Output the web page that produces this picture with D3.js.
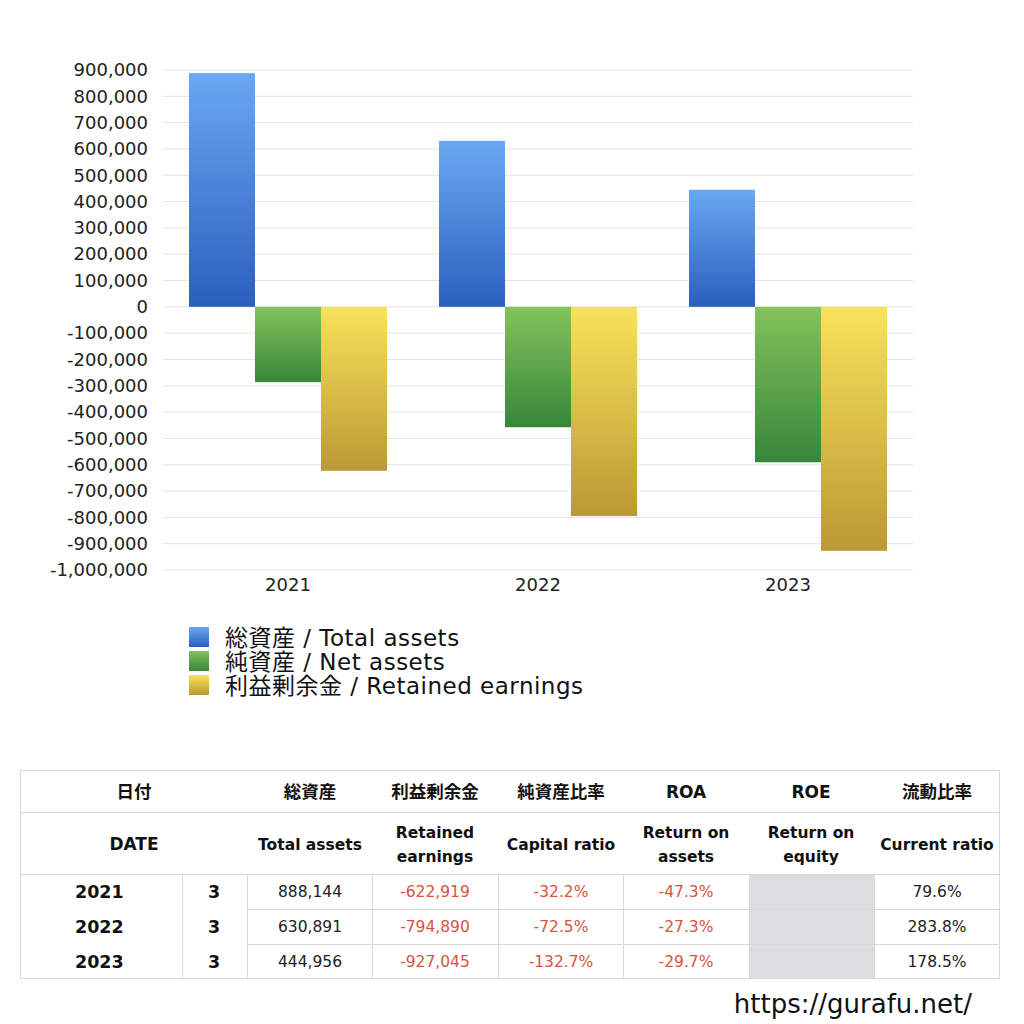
<!DOCTYPE html>
<html><head><meta charset="utf-8">
<script src="https://cdn.jsdelivr.net/npm/d3@7"></script>
<style>body{margin:0;background:#fff;}svg{display:block;font-family:"DejaVu Sans","Noto Sans CJK JP",sans-serif;}</style>
</head><body>
<script>
const years = ["2021","2022","2023"];
const seriesNames = ["総資産 / Total assets","純資産 / Net assets","利益剰余金 / Retained earnings"];
const totalAssets = [888144, 630891, 444956];
const netAssets = [-286000, -457400, -590500];
const retainedEarnings = [-622919, -794890, -927045];
const yTicks = [900000,800000,700000,600000,500000,400000,300000,200000,100000,0,-100000,-200000,-300000,-400000,-500000,-600000,-700000,-800000,-900000,-1000000];
const tableMonths = ["3","3","3"];
const tableTotal = ["888,144","630,891","444,956"];
const tableRetained = ["-622,919","-794,890","-927,045"];
const tableCapital = ["-32.2%","-72.5%","-132.7%"];
const tableROA = ["-47.3%","-27.3%","-29.7%"];
const tableCurrent = ["79.6%","283.8%","178.5%"];

const W=1024,H=1024;
const svg=d3.select("body").append("svg").attr("width",W).attr("height",H);
const defs=svg.append("defs");
const grads=[["#6aa8f2","#2a5fbd"],["#84c25b","#37863a"],["#f8e25a","#bb9934"]];
grads.forEach((g,i)=>{
  const lg=defs.append("linearGradient").attr("id","g"+i).attr("x1",0).attr("y1",0).attr("x2",0).attr("y2",1);
  lg.append("stop").attr("offset","0%").attr("stop-color",g[0]);
  lg.append("stop").attr("offset","100%").attr("stop-color",g[1]);
});

const x0=d3.scaleBand().domain(years).range([163,913]).paddingInner(0).paddingOuter(0);
const x1=d3.scaleBand().domain([0,1,2]).range([26,x0.bandwidth()-26]);
const y=d3.scaleLinear().domain([-1000000,900000]).range([570,70]);
const fmt=d3.formatLocale({decimal:".",thousands:",",grouping:[3],currency:["",""],minus:"-"}).format(",");

svg.append("g").selectAll("line").data(yTicks).join("line")
  .attr("x1",163).attr("x2",913).attr("y1",d=>y(d)).attr("y2",d=>y(d))
  .attr("stroke","#e4e4e4").attr("stroke-width",1);

const yAxis=d3.axisLeft(y).tickValues(yTicks).tickFormat(fmt).tickSize(0).tickPadding(0);
const ga=svg.append("g").attr("transform","translate(148,0)").call(yAxis);
ga.select(".domain").remove();
ga.selectAll("text").attr("font-size",18).attr("fill","#222").attr("font-family","'DejaVu Sans',sans-serif");

const xAxis=d3.axisBottom(x0).tickSize(0).tickPadding(0);
const gx=svg.append("g").attr("transform","translate(0,576)").call(xAxis);
gx.select(".domain").remove();
gx.selectAll("text").attr("font-size",18).attr("fill","#222").attr("font-family","'DejaVu Sans',sans-serif").attr("dy","0.85em");

const series=[totalAssets,netAssets,retainedEarnings];
const g=svg.append("g");
years.forEach((yr,i)=>{
  series.forEach((s,j)=>{
    const v=s[i];
    g.append("rect").attr("x",x0(yr)+x1(j)).attr("width",x1.bandwidth())
      .attr("y",y(Math.max(0,v))).attr("height",Math.abs(y(v)-y(0)))
      .attr("fill",`url(#g${j})`);
  });
});

const lg=svg.append("g");
seriesNames.forEach((n,i)=>{
  lg.append("rect").attr("x",189).attr("y",627+i*24).attr("width",20).attr("height",20).attr("fill",`url(#g${i})`);
  lg.append("text").attr("x",225).attr("y",646+i*24).attr("font-size",23).attr("letter-spacing",0.5).attr("fill","#111").text(n);
});

const t=svg.append("g");
const tx=20, tr=1000;
const colX=[20,182,247,372,498,623,749,874,1000];
const rowY=[770,812,874,909,944,979];
const lineC="#d8d8d8";
t.append("rect").attr("x",colX[6]).attr("y",rowY[2]).attr("width",colX[7]-colX[6]).attr("height",rowY[5]-rowY[2]).attr("fill","#dcdddf");
t.append("rect").attr("x",tx+0.5).attr("y",rowY[0]+0.5).attr("width",tr-tx-1).attr("height",rowY[5]-rowY[0]-1).attr("fill","none").attr("stroke",lineC);
t.append("line").attr("x1",tx).attr("x2",tr).attr("y1",rowY[1]+0.5).attr("y2",rowY[1]+0.5).attr("stroke",lineC);
t.append("line").attr("x1",tx).attr("x2",tr).attr("y1",rowY[2]+0.5).attr("y2",rowY[2]+0.5).attr("stroke",lineC);
[3,4].forEach(r=>t.append("line").attr("x1",colX[2]).attr("x2",tr).attr("y1",rowY[r]+0.5).attr("y2",rowY[r]+0.5).attr("stroke",lineC));
[1,2,3,4,5,6,7].forEach(c=>t.append("line").attr("x1",colX[c]+0.5).attr("x2",colX[c]+0.5).attr("y1",rowY[2]).attr("y2",rowY[5]).attr("stroke",lineC));

const hdr1=[["日付",134],["総資産",310],["利益剰余金",435],["純資産比率",561],["ROA",686],["ROE",811],["流動比率",937]];
hdr1.forEach(([s,cx])=>t.append("text").attr("x",cx).attr("y",798).attr("text-anchor","middle").attr("font-size",/[A-Z]/.test(s)?17:17.5).attr("font-weight","bold").attr("fill","#111").text(s));
const hdr2=[[["DATE"],134],[["Total assets"],310],[["Retained","earnings"],435],[["Capital ratio"],561],[["Return on","assets"],686],[["Return on","equity"],811],[["Current ratio"],937]];
hdr2.forEach(([lines,cx])=>{
  if(lines.length===1){
    t.append("text").attr("x",cx).attr("y",850).attr("text-anchor","middle").attr("font-size",lines[0]==="DATE"?17:15.5).attr("font-weight","bold").attr("fill","#111").text(lines[0]);
  } else {
    lines.forEach((l,k)=>t.append("text").attr("x",cx).attr("y",838+k*24).attr("text-anchor","middle").attr("font-size",15.5).attr("font-weight","bold").attr("fill","#111").text(l));
  }
});
const red="#d9533d";
years.forEach((yr,i)=>{
  const cy=rowY[2]+i*35+24;
  t.append("text").attr("x",75).attr("y",cy).attr("font-size",17.5).attr("font-weight","bold").attr("fill","#111").text(yr);
  t.append("text").attr("x",214).attr("y",cy).attr("text-anchor","middle").attr("font-size",17.5).attr("font-weight","bold").attr("fill","#111").text(tableMonths[i]);
  const cells=[[tableTotal[i],310,"#222"],[tableRetained[i],435,red],[tableCapital[i],561,red],[tableROA[i],686,red],[tableCurrent[i],937,"#222"]];
  cells.forEach(([s,cx,c])=>t.append("text").attr("x",cx).attr("y",cy-1).attr("text-anchor","middle").attr("font-size",15.5).attr("fill",c).text(s));
});

svg.append("text").attr("x",972).attr("y",1013).attr("text-anchor","end").attr("font-size",26).attr("fill","#111").text("https://gurafu.net/");
</script>
</body></html>
